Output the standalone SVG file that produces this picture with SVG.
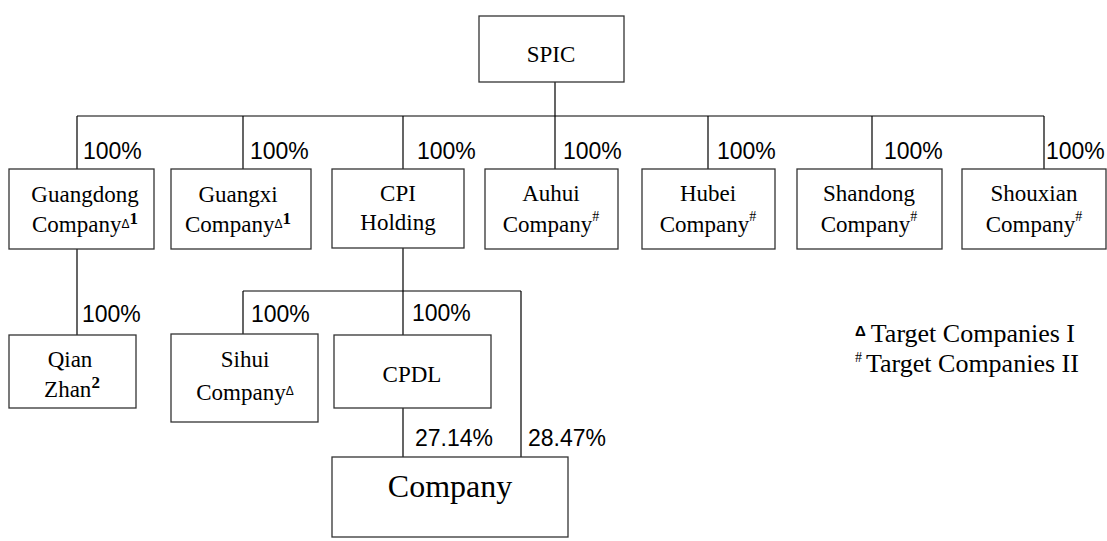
<svg xmlns="http://www.w3.org/2000/svg" width="1107" height="541" viewBox="0 0 1107 541">
<style>
.box{fill:#fff;stroke:#333;stroke-width:1.3}
.ln{fill:none;stroke:#000;stroke-width:1.2}
.p{font-size:23px;fill:#000}
.tri{font-size:12px}
.sup{font-size:17px;font-weight:bold}
.hash{font-size:14px}
</style>
<rect width="1107" height="541" fill="#fff"/>
<g id="connectors">
<path class="ln" d="M555 82V169M77 116H1044M77 116V169M243 116V169M403 116V169M708 116V169M872 116V169M1044 116V169"/>
<path class="ln" d="M77 249V335M403 248V335M243 291H521M243 291V334M521 291V457M403 408V457"/>
<g font-family="Liberation Sans, Arial, sans-serif">
<text class="p" x="83" y="159">100%</text>
<text class="p" x="250" y="159">100%</text>
<text class="p" x="417" y="159">100%</text>
<text class="p" x="563" y="159">100%</text>
<text class="p" x="717" y="159">100%</text>
<text class="p" x="884" y="159">100%</text>
<text class="p" x="1046" y="159">100%</text>
<text class="p" x="82" y="322">100%</text>
<text class="p" x="251" y="322">100%</text>
<text class="p" x="412" y="321">100%</text>
<text class="p" x="415" y="446">27.14%</text>
<text class="p" x="528" y="446">28.47%</text>
</g>
</g>
<g font-family="Liberation Serif, Times New Roman, serif" font-size="23" text-anchor="middle" fill="#000">
<g id="spic"><rect class="box" x="479" y="16" width="145" height="66"/><text x="551" y="62">SPIC</text></g>
<g id="guangdong"><rect class="box" x="9" y="169" width="145" height="80"/><text x="85" y="202">Guangdong</text><text x="85" y="232">Company<tspan class="tri" font-family="Liberation Sans, Arial, sans-serif" dy="-4">Δ</tspan><tspan class="sup" dy="-4">1</tspan></text></g>
<g id="guangxi"><rect class="box" x="171" y="169" width="140" height="80"/><text x="238" y="202">Guangxi</text><text x="238" y="232">Company<tspan class="tri" font-family="Liberation Sans, Arial, sans-serif" dy="-4">Δ</tspan><tspan class="sup" dy="-4">1</tspan></text></g>
<g id="cpi"><rect class="box" x="332" y="169" width="132" height="79"/><text x="398" y="201">CPI</text><text x="398" y="230">Holding</text></g>
<g id="auhui"><rect class="box" x="485" y="169" width="133" height="80"/><text x="551" y="201">Auhui</text><text x="551" y="232">Company<tspan class="hash" dy="-11">#</tspan></text></g>
<g id="hubei"><rect class="box" x="642" y="169" width="133" height="80"/><text x="708" y="201">Hubei</text><text x="708" y="232">Company<tspan class="hash" dy="-11">#</tspan></text></g>
<g id="shandong"><rect class="box" x="797" y="169" width="145" height="80"/><text x="869" y="201">Shandong</text><text x="869" y="232">Company<tspan class="hash" dy="-11">#</tspan></text></g>
<g id="shouxian"><rect class="box" x="962" y="169" width="144" height="80"/><text x="1034" y="201">Shouxian</text><text x="1034" y="232">Company<tspan class="hash" dy="-11">#</tspan></text></g>
<g id="qianzhan"><rect class="box" x="9" y="335" width="127" height="73"/><text x="70" y="367">Qian</text><text x="72" y="397">Zhan<tspan class="sup" dy="-9">2</tspan></text></g>
<g id="sihui"><rect class="box" x="171" y="334" width="147" height="88"/><text x="245" y="367">Sihui</text><text x="245" y="400">Company<tspan class="tri" font-family="Liberation Sans, Arial, sans-serif" dy="-5">Δ</tspan></text></g>
<g id="cpdl"><rect class="box" x="334" y="335" width="157" height="73"/><text x="412" y="382">CPDL</text></g>
<g id="company"><rect class="box" x="332" y="457" width="236" height="80"/><text x="450" y="497" font-size="32">Company</text></g>
</g>
<g id="legend" font-family="Liberation Serif, Times New Roman, serif" font-size="26" fill="#000">
<text x="855" y="342"><tspan font-family="Liberation Sans, Arial, sans-serif" font-size="15" font-weight="bold" dy="-6">Δ</tspan><tspan dx="5" dy="6">Target Companies I</tspan></text>
<text x="855" y="372"><tspan class="hash" dy="-10">#</tspan><tspan dx="4" dy="10">Target Companies II</tspan></text>
</g>
</svg>
